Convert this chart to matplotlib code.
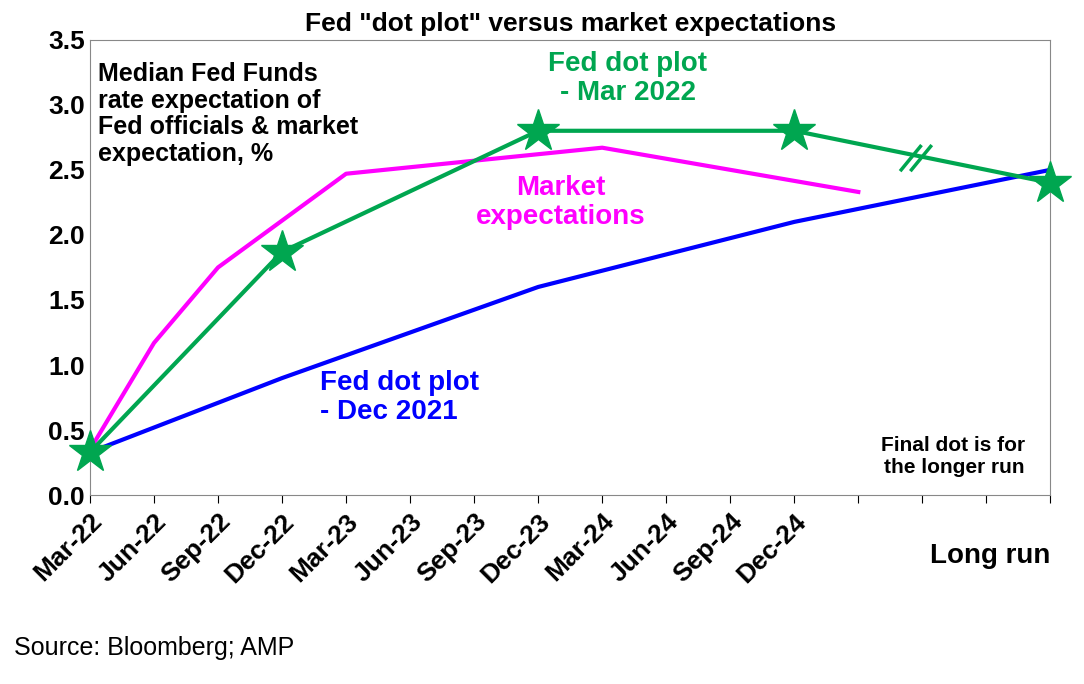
import matplotlib
matplotlib.use("Agg")
from matplotlib import pyplot as plt

plt.rcParams["font.family"] = ["Liberation Sans", "DejaVu Sans"]

quarters = ["Mar-22", "Jun-22", "Sep-22", "Dec-22", "Mar-23", "Jun-23", "Sep-23",
            "Dec-23", "Mar-24", "Jun-24", "Sep-24", "Dec-24"]

market_x = [0, 1, 2, 4, 8, 12]
market_y = [0.35, 1.17, 1.75, 2.47, 2.67, 2.33]

dec21_x = [0, 3, 7, 11, 15]
dec21_y = [0.33, 0.90, 1.60, 2.10, 2.50]

mar22_x = [0, 3, 7, 11, 15]
mar22_y = [0.33, 1.87, 2.80, 2.80, 2.40]

GREEN = "#00a650"

fig = plt.figure(figsize=(10.84, 6.84), dpi=100)
ax = fig.add_axes([0.083, 0.276, 0.886, 0.666])

ax.plot(dec21_x, dec21_y, color="#0000ff", lw=3)
ax.plot(market_x, market_y, color="#ff00ff", lw=3)
ax.plot(mar22_x, mar22_y, color=GREEN, lw=3)
ax.plot(mar22_x, mar22_y, ls="none", marker="*", ms=32, color=GREEN, clip_on=False, zorder=5)

# break marks on the long-run segment
for dx in (-0.08, 0.08):
    ax.plot([12.75 + dx, 13.05 + dx], [2.5, 2.68], color=GREEN, lw=2.5)

ax.set_xlim(0, 15)
ax.set_ylim(0, 3.5)
ax.set_xticks(range(16))
ax.set_xticklabels(quarters + ["", "", "", ""], rotation=45, ha="right",
                   rotation_mode="anchor", fontsize=19, fontweight="bold")
ax.set_yticks([0, 0.5, 1, 1.5, 2, 2.5, 3, 3.5])
ax.set_yticklabels([f"{v:.1f}" for v in ax.get_yticks()], fontsize=19, fontweight="bold")
ax.tick_params(axis="x", direction="out", length=6, pad=4)
ax.tick_params(axis="y", length=0)
for s in ax.spines.values():
    s.set_color("#888888")

ax.set_title('Fed "dot plot" versus market expectations', fontsize=19,
             fontweight="bold", pad=6)

ax.text(0.12, 3.33, "Median Fed Funds\nrate expectation of\nFed officials & market\nexpectation, %",
        fontsize=18, fontweight="bold", va="top", linespacing=1.15)
ax.text(8.4, 3.2, "Fed dot plot\n- Mar 2022", fontsize=20, fontweight="bold",
        color=GREEN, ha="center", va="center", linespacing=1.15)
ax.text(7.35, 2.25, "Market\nexpectations", fontsize=20, fontweight="bold",
        color="#ff00ff", ha="center", va="center", linespacing=1.15)
ax.text(3.6, 0.75, "Fed dot plot\n- Dec 2021", fontsize=20, fontweight="bold",
        color="#0000ff", ha="left", va="center", linespacing=1.15)
ax.text(14.6, 0.3, "Final dot is for\nthe longer run", fontsize=15, fontweight="bold",
        ha="right", va="center", linespacing=1.2)

fig.text(0.969, 0.187, "Long run", fontsize=20, fontweight="bold", ha="right", va="center")
fig.text(0.013, 0.053, "Source: Bloomberg; AMP", fontsize=18, ha="left", va="center")

fig.savefig("out.png", dpi=100)
